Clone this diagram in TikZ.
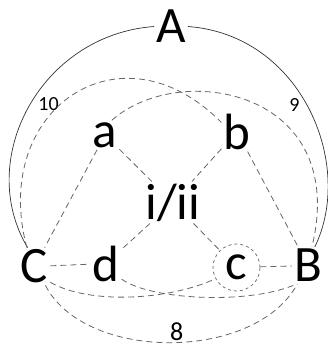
\documentclass[tikz,border=0pt]{standalone}
\usepackage{fontspec}
\setmainfont{Carlito}
\usepackage{tikz}
\usetikzlibrary{arrows.meta}

\begin{document}
\begin{tikzpicture}[x=1pt,y=-1pt,
  vtx/.style={font=\fontsize{51}{51}\selectfont,inner sep=2pt},
  ring/.style={vtx,circle,draw=black!55,dashed,line width=0.8pt,minimum size=47pt,inner sep=0pt},
  arc/.style={draw=black!80,line width=0.7pt},
  link/.style={draw=black!60,line width=0.8pt,dash pattern=on 6pt off 4pt},
  num/.style={font=\fontsize{20}{20}\selectfont,inner sep=2pt}]
\useasboundingbox (0,0) rectangle (328,347);
% letters
\node[vtx] (A) at (171,26.5) {A};
\node[vtx] (a) at (105,135) {a};
\node[vtx] (b) at (237,131.5) {b};
\node[vtx] (i) at (173,202.5) {i/ii};
\node[vtx] (C) at (34.5,266.5) {C};
\node[vtx] (d) at (106,263.5) {d};
\node[ring] (c) at (236.5,267.5) {c};
\node[vtx] (B) at (308,265.5) {B};
% outer solid arcs
\draw[arc] (A.west) .. controls (40,35) and (-25,160) .. (C.110)
  node[num,pos=.45,anchor=north west] {10};
\draw[arc] (A.east) .. controls (302,35) and (355,165) .. (B.70)
  node[num,pos=.45,anchor=north east] {9};
% straight dashed links
\draw[link] (a) -- (C);
\draw[link] (a) -- (i);
\draw[link] (b) -- (i);
\draw[link] (b) -- (B);
\draw[link] (i) -- (d);
\draw[link] (i) -- (c);
\draw[link] (C) -- (d);
\draw[link] (c) -- (B);
% dashed curves
\draw[link] (C.112) .. controls (-10,110) and (120,20) .. (b.150);
\draw[link] (a.65) .. controls (180,60) and (350,90) .. (B.78);
\draw[link] (C.-45) .. controls (90,305) and (170,300) .. (c.208);
\draw[link] (d.-45) .. controls (150,300) and (250,305) .. (B.238);
\draw[link] (C.-60) .. controls (85,362) and (255,362) .. (B.240)
  node[num,font=\fontsize{26}{26}\selectfont,pos=.52,anchor=south,inner sep=1pt] {8};
\end{tikzpicture}
\end{document}
